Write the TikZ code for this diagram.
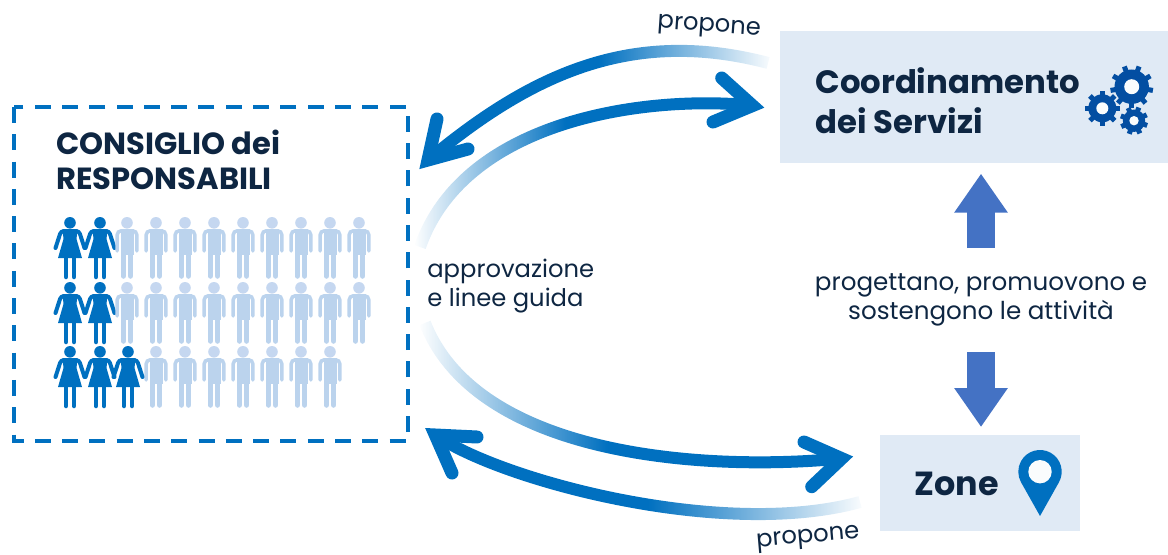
\documentclass[tikz,border=0pt]{standalone}
\usepackage{fontspec}
\setmainfont{Poppins}
\usetikzlibrary{arrows.meta,fadings}
\definecolor{mainBlue}{RGB}{0,112,192}
\definecolor{gearBlue}{RGB}{3,78,162}
\definecolor{blockBlue}{RGB}{68,114,196}
\definecolor{boxBlue}{RGB}{224,234,245}
\definecolor{menBlue}{RGB}{187,211,237}
\definecolor{headBlue}{RGB}{197,215,240}
\definecolor{navyText}{RGB}{14,38,66}
\pgfdeclarehorizontalshading{fadeEastShade}{100bp}{color(0bp)=(white); color(50bp)=(white); color(75bp)=(black); color(100bp)=(black)}
\pgfdeclarehorizontalshading{fadeWestShade}{100bp}{color(0bp)=(black); color(25bp)=(black); color(47bp)=(white); color(100bp)=(white)}
\tikzfading[name=fadeEast,shading=fadeEastShade]
\tikzfading[name=fadeWest,shading=fadeWestShade]
\tikzset{
  box/.style={fill=boxBlue,inner sep=0pt,anchor=north west},
  title/.style={text=navyText,inner sep=0pt,align=left,anchor=base west,font=\bfseries\fontsize{#1}{#1}\selectfont},
  plain/.style={text=navyText,inner sep=0pt,font=\fontsize{13.8}{16}\selectfont},
  shaft/.style={draw=mainBlue,line width=0.24cm},
  head/.style={draw=mainBlue,line width=0.26cm,line cap=round,line join=miter},
  block/.style={draw=blockBlue,line width=0.56cm,-{Triangle[length=0.78cm,width=1.02cm,fill=blockBlue]}},
  man/.pic={
    \fill[headBlue] (0,5.8) circle[radius=5.8];
    \fill[menBlue] (-6.5,12) rectangle (6.5,38);
    \draw[menBlue,line width=0.07cm,rounded corners=0.08cm,line cap=round] (-9.8,34)--(-9.8,13.8)--(9.8,13.8)--(9.8,34);
    \draw[menBlue,line width=0.11cm,line cap=round] (-3.6,36)--(-3.6,59) (3.6,36)--(3.6,59);
  },
  woman/.pic={
    \fill[mainBlue] (0,5.8) circle[radius=5.8];
    \fill[mainBlue] (-7.5,12)--(7.5,12)--(6.5,22)--(12,41)--(-12,41)--(-6.5,22)--cycle;
    \draw[mainBlue,line width=0.08cm,line cap=round,rounded corners=0.06cm] (-14.5,31)--(-9,14)--(9,14)--(14.5,31);
    \draw[mainBlue,line width=0.09cm,line cap=round] (-4,40)--(-4,60) (4,40)--(4,60);
  }
}
\newcommand{\gearIcon}[6]{
  \fill[gearBlue] (#1,#2) circle[radius=#3*0.8];
  \foreach \a in {1,...,#5}
    \draw[gearBlue,line width=0.1cm] (#1,#2)++(#6+\a*360/#5:#3*0.7)--++(#6+\a*360/#5:#3*0.3);
  \fill[white!85!boxBlue] (#1,#2) circle[radius=#4];
}
\begin{document}
\begin{tikzpicture}[x=0.02cm,y=-0.02cm]
\useasboundingbox (0,0) rectangle (1168,554);
% boxes
\node[box,minimum width=7.76cm,minimum height=2.64cm] (coordBox) at (780,31) {};
\node[box,minimum width=4cm,minimum height=1.92cm] (zoneBox) at (880,435) {};
\draw[mainBlue,line width=0.07cm,dash pattern=on 0.32cm off 0.226cm] (14,107) rectangle (408,441);
% labels
\node[title=17.4] (consiglio) at (56,189) {CONSIGLIO dei\\[2pt]RESPONSABILI};
\node[title=18.4] (coordText) at (815,133) {Coordinamento\\[4pt]dei Servizi};
\node[title=19] (zoneText) at (914,495) {Zone};
\node[plain,anchor=base west,align=left] (approv) at (427,306) {approvazione\\e linee guida};
\node[plain,anchor=base,align=center,font=\fontsize{14}{16.4}\selectfont] (prog) at (981,319) {progettano, promuovono e\\sostengono le attività};
\node[plain,rotate=-4] (proponeTop) at (709,28) {propone};
\node[plain,rotate=5] (proponeBot) at (808,539) {propone};
% people
\foreach \r in {217,282,346}{
  \foreach \x in {156,185,...,330} \pic at (\x,\r) {man};
  \pic at (70,\r) {woman};
  \pic at (100,\r) {woman};
}
\foreach \r in {217,282}{
  \pic at (127,\r) {man};
  \pic at (359,\r) {man};
}
\pic at (128,346) {woman};
% curved arrows
\coordinate (topStart) at (768,63);
\coordinate (topEnd) at (428,160);
\coordinate (upStart) at (420,247);
\coordinate (upEnd) at (752.4,105.6);
\coordinate (lowStart) at (425,323);
\coordinate (lowEnd) at (841.5,458.5);
\coordinate (botStart) at (860,502);
\coordinate (botEnd) at (435.3,435);
\draw[shaft,path fading=fadeEast] (topStart) .. controls (631,27) and (530,75) .. (topEnd);
\draw[shaft,path fading=fadeWest] (upStart) .. controls (465,118) and (650,95) .. (upEnd);
\draw[shaft,path fading=fadeWest] (lowStart) .. controls (477,455) and (700,472) .. (lowEnd);
\draw[shaft,path fading=fadeEast] (botStart) .. controls (722,540) and (500,480) .. (botEnd);
\draw[head] (437,119)--(topEnd)--(468,149);
\draw[head] (721.7,78)--(upEnd)--(713,122);
\draw[head] (804,442)--(lowEnd)--(811.7,486.7);
\draw[head] (477,437)--(botEnd)--(452,473);
% block arrows
\coordinate (progTop) at (981,248);
\coordinate (progBot) at (981,352);
\draw[block,shorten >=0.2cm] (progTop)--(coordBox.south -| progTop);
\draw[block,shorten >=0.16cm] (progBot)--(zoneBox.north -| progBot);
% icons
\gearIcon{1131.7}{86.7}{21.5}{7.5}{9}{10}
\gearIcon{1102.3}{108.3}{17.5}{6}{8}{0}
\gearIcon{1134}{120.7}{14}{4.7}{8}{20}
\fill[mainBlue] (1040,516)--(1058.9,482.3) arc[start angle=29.3,end angle=-209.3,radius=21.7]--cycle;
\fill[white!85!boxBlue] (1040,471.7) circle[radius=11.7];
\end{tikzpicture}
\end{document}
